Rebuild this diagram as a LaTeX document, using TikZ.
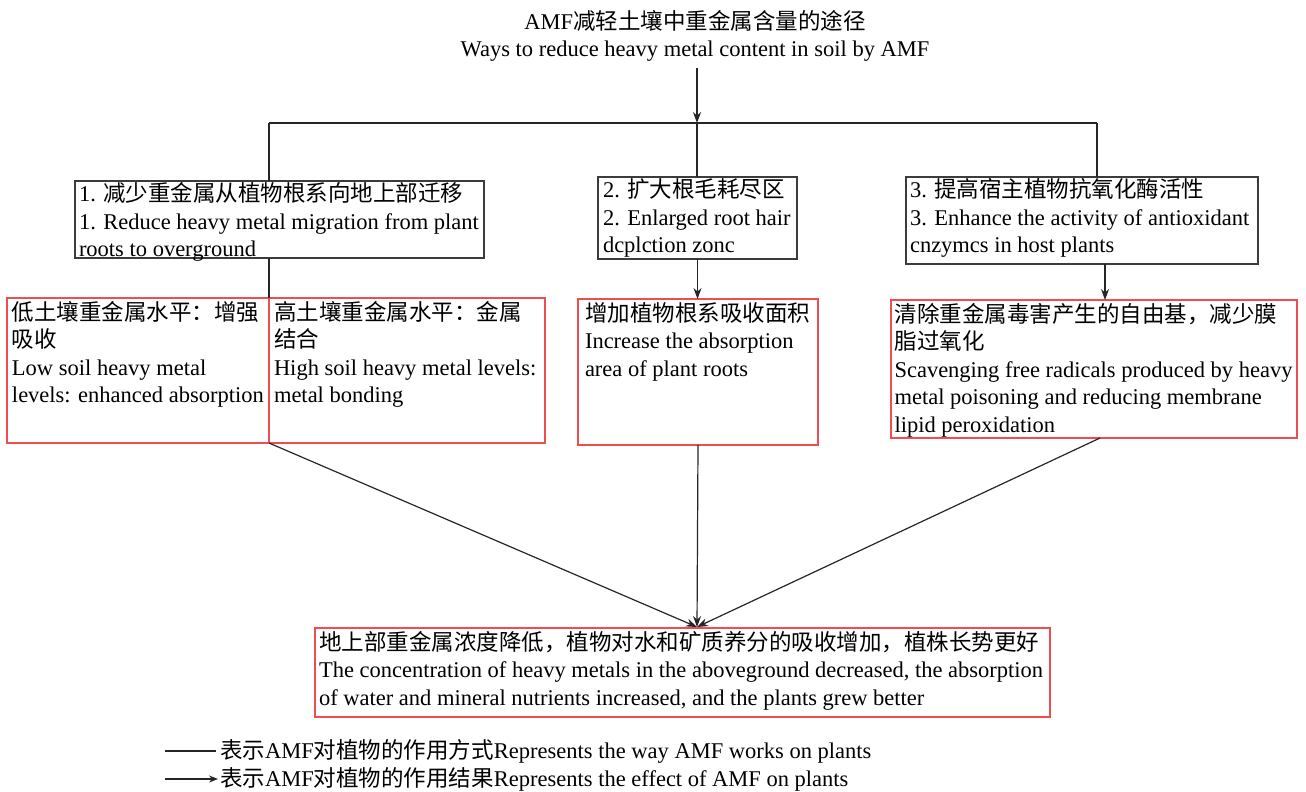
\documentclass[tikz,border=0pt]{standalone}
\usepackage{fontspec}
\setmainfont{Liberation Serif}
\newfontfamily\cjk{Noto Sans CJK SC}
\usetikzlibrary{arrows.meta}
\newcommand\zh[1]{{\cjk #1}}
\newcommand\tb[3]{\parbox[t][#2][t]{#1}{\begin{tabular}[t]{@{}l@{}}#3\end{tabular}}}
\definecolor{boxred}{RGB}{238,78,78}
\definecolor{boxgray}{RGB}{60,60,60}
\begin{document}
\begin{tikzpicture}[x=1pt,y=-1pt,
  font=\fontsize{22.5}{27.5}\selectfont,
  blackbox/.style={draw=boxgray, line width=1.3pt, inner xsep=4pt, inner ysep=1.3pt, anchor=north west, outer sep=0pt},
  redbox/.style={draw=boxred, line width=1.3pt, inner xsep=4pt, inner ysep=3pt, anchor=north west, outer sep=0pt},
  conn/.style={draw=black!85, line width=1.2pt},
  arr/.style={conn, -{Stealth[length=11pt,width=8pt]}}]
\useasboundingbox (0,0) rectangle (1306,792);

% title
\node[align=center, inner sep=0pt] (T) at (695,36) {AMF\zh{减轻土壤中重金属含量的途径}\\Ways to reduce heavy metal content in soil by AMF};

% level 1 boxes
\node[blackbox] (B1) at (75,181) {\tb{401pt}{74.4pt}{1. \zh{减少重金属从植物根系向地上部迁移}\\1. Reduce heavy metal migration from plant\\roots to overground}};
\node[blackbox, inner xsep=5pt] (B2) at (598,177) {\tb{189pt}{79.4pt}{2. \zh{扩大根毛耗尽区}\\2. Enlarged root hair\\dcplction zonc}};
\node[blackbox] (B3) at (906,177) {\tb{344pt}{84.4pt}{3. \zh{提高宿主植物抗氧化酶活性}\\3. Enhance the activity of antioxidant\\cnzymcs in host plants}};

% level 2 boxes
\node[redbox, inner xsep=5pt] (RA) at (7,298) {\tb{252pt}{139pt}{\zh{低土壤重金属水平：增强}\\\zh{吸收}\\Low soil heavy metal\\levels: enhanced absorption}};
\node[redbox, inner xsep=5pt] (RB) at (269,298) {\tb{266pt}{139pt}{\zh{高土壤重金属水平：金属}\\\zh{结合}\\High soil heavy metal levels:\\metal bonding}};
\node[redbox, inner xsep=7pt] (RC) at (578,299) {\tb{226pt}{140pt}{\zh{增加植物根系吸收面积}\\Increase the absorption\\area of plant roots}};
\node[redbox, inner xsep=3.5pt] (RD) at (891,300) {\tb{399pt}{132pt}{\zh{清除重金属毒害产生的自由基，减少膜}\\\zh{脂过氧化}\\Scavenging free radicals produced by heavy\\metal poisoning and reducing membrane\\lipid peroxidation}};

% result box
\node[redbox] (Bot) at (315,628) {\tb{727pt}{83pt}{\zh{地上部重金属浓度降低，植物对水和矿质养分的吸收增加，植株长势更好}\\The concentration of heavy metals in the aboveground decreased, the absorption\\of water and mineral nutrients increased, and the plants grew better}};

% coordinates
\coordinate (hub) at (697,123);
\coordinate (hl) at (269,123);
\coordinate (hr) at (1097,123);
\coordinate (x3) at (1105,0);
\coordinate (dfrom) at (1100,438);
\coordinate (tip) at (697,627);

% connectors
\draw[arr] (T.south) ++(2,6) -- (hub);
\draw[conn] (hl) -- (hr);
\draw[conn] (hl) -- (hl |- B1.north);
\draw[conn] (hub) -- (hub |- B2.north);
\draw[conn] (hr) -- (hr |- B3.north);
\draw[conn] (hl |- B1.south) -- (hl |- RA.north);
\draw[arr] (B2.south) -- (B2.south |- RC.north);
\draw[arr] (x3 |- B3.south) -- (x3 |- RD.north);
\draw[arr] (RA.south east) -- (tip);
\draw[arr] (RC.south) -- (tip);
\draw[arr] (dfrom) -- (tip);

% legend
\coordinate (l1a) at (165,751);
\coordinate (l1b) at (216,751);
\coordinate (l2a) at (165,779);
\coordinate (l2b) at (218,779);
\draw[conn] (l1a) -- (l1b);
\draw[arr, -{Stealth[length=9pt,width=7pt]}] (l2a) -- (l2b);
\node[anchor=west, inner sep=0pt] (L1) at (220,751) {\zh{表示}AMF\zh{对植物的作用方式}Represents the way AMF works on plants};
\node[anchor=west, inner sep=0pt] (L2) at (220,779) {\zh{表示}AMF\zh{对植物的作用结果}Represents the effect of AMF on plants};
\end{tikzpicture}
\end{document}
